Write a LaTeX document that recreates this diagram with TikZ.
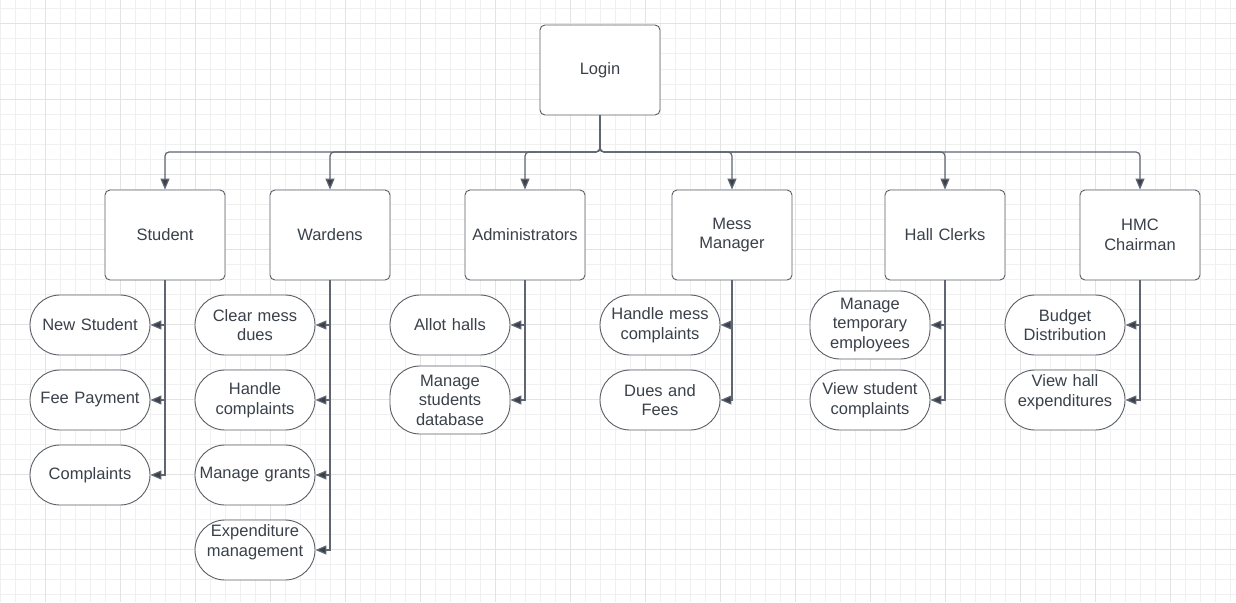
\documentclass[tikz,border=0pt]{standalone}
\usepackage{fontspec}
\setmainfont{Liberation Sans}
\usetikzlibrary{arrows.meta}
\definecolor{txt}{HTML}{3A414A}
\definecolor{edge}{HTML}{5F6571}
\definecolor{bord}{HTML}{5A5E66}
\definecolor{gminor}{HTML}{F0F0F0}
\definecolor{gmajor}{HTML}{E3E3E3}
\tikzset{
  every node/.style={font=\fontsize{16.5}{19.5}\selectfont, text=txt},
  topbox/.style={draw=bord, line width=0.9pt, rounded corners=5pt, fill=white, minimum width=120pt, minimum height=90pt, inner sep=2pt, align=center, text width=116pt},
  leaf/.style={draw=bord, line width=0.9pt, rounded corners=30pt, fill=white, minimum width=120pt, minimum height=60pt, inner sep=1pt, align=center, text width=118pt},
  tall/.style={minimum height=68pt},
  lifted/.style={text depth=38pt},
  conn/.style={draw=edge, line width=1.2pt, rounded corners=4pt, -{Triangle[length=11pt,width=9pt,fill=txt]}},
  hook/.style={draw=edge, line width=1.2pt, -{Triangle[length=11pt,width=9pt,fill=txt]}}
}
\begin{document}
\begin{tikzpicture}[x=1pt,y=-1pt]
\useasboundingbox (0,0) rectangle (1236,602);
\fill[white] (0,0) rectangle (1236,602);
% grid
\foreach \i in {0,...,82} {
  \pgfmathtruncatemacro{\xx}{15*\i}
  \draw[gminor, line width=1pt] (\xx,0) -- (\xx,602);
}
\foreach \i in {0,...,39} {
  \pgfmathtruncatemacro{\yy}{9+15*\i}
  \draw[gminor, line width=1pt] (0,\yy) -- (1236,\yy);
}
\foreach \xx in {45,120,...,1236} \draw[gmajor, line width=1pt] (\xx,0) -- (\xx,602);
\foreach \yy in {24,99,...,602} \draw[gmajor, line width=1pt] (0,\yy) -- (1236,\yy);

% top
\node[topbox] (login) at (600,70) {Login};
\coordinate (bus) at (600,152);
\node[topbox] (student) at (165,235) {Student};
\node[topbox] (wardens) at (330,235) {Wardens};
\node[topbox] (admin) at (525,235) {Administrators};
\node[topbox] (mess) at (732,235) {Mess\\Manager};
\node[topbox] (clerks) at (945,235) {Hall Clerks};
\node[topbox] (hmc) at (1140,235) {HMC\\Chairman};

\foreach \n in {student,wardens,admin,mess,clerks,hmc}
  \draw[conn] (login.south) -- (bus) -| (\n.north);

% student children
\node[leaf] (s1) at (90,325) {New Student};
\node[leaf] (s2) at (90,400) {Fee Payment};
\node[leaf] (s3) at (90,475) {Complaints};
% wardens children
\node[leaf] (w1) at (255,325) {Clear mess\\dues};
\node[leaf] (w2) at (255,400) {Handle\\complaints};
\node[leaf] (w3) at (255,475) {Manage grants};
\node[leaf,lifted] (w4) at (255,550) {Expenditure\\management};
% admin children
\node[leaf] (a1) at (450,325) {Allot halls};
\node[leaf,tall] (a2) at (450,400) {Manage\\students\\database};
% mess children
\node[leaf] (m1) at (660,325) {Handle mess\\complaints};
\node[leaf] (m2) at (660,400) {Dues and\\Fees};
% clerks children
\node[leaf,tall] (c1) at (870,325) {Manage\\temporary\\employees};
\node[leaf] (c2) at (870,400) {View student\\complaints};
% hmc children
\node[leaf] (h1) at (1065,325) {Budget\\Distribution};
\node[leaf,lifted] (h2) at (1065,400) {View hall\\expenditures};

\foreach \p/\c in {student/s1,student/s2,student/s3,
                   wardens/w1,wardens/w2,wardens/w3,wardens/w4,
                   admin/a1,admin/a2,
                   mess/m1,mess/m2,clerks/c1,clerks/c2,hmc/h1,hmc/h2}
  \draw[hook] (\p.south) |- (\c.east);
\end{tikzpicture}
\end{document}
